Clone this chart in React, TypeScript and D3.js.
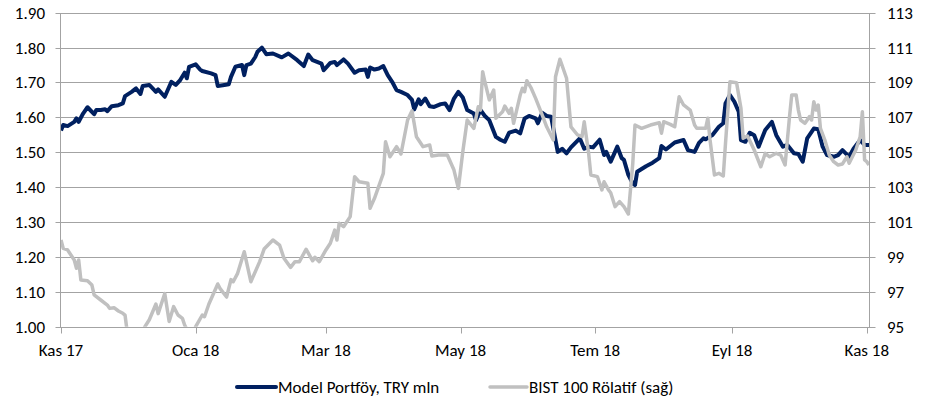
import React from 'react';
import * as d3 from 'd3';

// Model Portföy, TRY mln (left axis)
const portfolioDates = [
  '2017-11-01', '2017-11-02', '2017-11-04', '2017-11-07', '2017-11-08', '2017-11-09', '2017-11-11', '2017-11-13',
  '2017-11-16', '2017-11-17', '2017-11-19', '2017-11-21', '2017-11-22', '2017-11-24', '2017-11-27', '2017-11-29',
  '2017-11-30', '2017-12-03', '2017-12-05', '2017-12-07', '2017-12-08', '2017-12-11', '2017-12-14', '2017-12-15',
  '2017-12-18', '2017-12-21', '2017-12-23', '2017-12-25', '2017-12-27', '2017-12-28', '2017-12-29', '2018-01-01',
  '2018-01-03', '2018-01-04', '2018-01-08', '2018-01-10', '2018-01-11', '2018-01-14', '2018-01-16', '2018-01-17',
  '2018-01-19', '2018-01-22', '2018-01-23', '2018-01-24', '2018-01-26', '2018-01-28', '2018-01-29', '2018-01-31',
  '2018-02-02', '2018-02-05', '2018-02-09', '2018-02-12', '2018-02-16', '2018-02-19', '2018-02-21', '2018-02-23',
  '2018-02-27', '2018-02-28', '2018-03-03', '2018-03-05', '2018-03-06', '2018-03-09', '2018-03-11', '2018-03-14',
  '2018-03-16', '2018-03-19', '2018-03-20', '2018-03-21', '2018-03-23', '2018-03-25', '2018-03-27', '2018-03-29',
  '2018-03-31', '2018-04-02', '2018-04-04', '2018-04-07', '2018-04-09', '2018-04-10', '2018-04-12', '2018-04-13',
  '2018-04-15', '2018-04-17', '2018-04-19', '2018-04-22', '2018-04-24', '2018-04-26', '2018-04-28', '2018-04-30',
  '2018-05-02', '2018-05-04', '2018-05-07', '2018-05-08', '2018-05-10', '2018-05-12', '2018-05-14', '2018-05-17',
  '2018-05-19', '2018-05-21', '2018-05-23', '2018-05-26', '2018-05-28', '2018-05-30', '2018-06-01', '2018-06-04',
  '2018-06-05', '2018-06-07', '2018-06-09', '2018-06-11', '2018-06-14', '2018-06-16', '2018-06-18', '2018-06-20',
  '2018-06-24', '2018-06-26', '2018-06-28', '2018-06-30', '2018-07-03', '2018-07-05', '2018-07-06', '2018-07-08',
  '2018-07-11', '2018-07-13', '2018-07-14', '2018-07-16', '2018-07-18', '2018-07-19', '2018-07-20', '2018-07-24',
  '2018-07-27', '2018-07-30', '2018-07-31', '2018-08-02', '2018-08-04', '2018-08-06', '2018-08-10', '2018-08-12',
  '2018-08-15', '2018-08-17', '2018-08-19', '2018-08-20', '2018-08-23', '2018-08-26', '2018-08-28', '2018-08-29',
  '2018-08-31', '2018-09-02', '2018-09-04', '2018-09-05', '2018-09-07', '2018-09-09', '2018-09-11', '2018-09-13',
  '2018-09-16', '2018-09-19', '2018-09-21', '2018-09-24', '2018-09-26', '2018-09-29', '2018-10-01', '2018-10-03',
  '2018-10-05', '2018-10-08', '2018-10-10', '2018-10-12', '2018-10-14', '2018-10-17', '2018-10-19', '2018-10-21',
  '2018-10-24', '2018-10-26', '2018-10-29', '2018-10-31', '2018-11-02',
];
const portfolioValues = [
  1.562, 1.578, 1.575, 1.587, 1.597, 1.587, 1.611, 1.629,
  1.609, 1.621, 1.621, 1.623, 1.618, 1.632, 1.635, 1.640,
  1.661, 1.673, 1.683, 1.667, 1.690, 1.693, 1.673, 1.680,
  1.659, 1.702, 1.693, 1.707, 1.728, 1.712, 1.745, 1.752,
  1.737, 1.733, 1.726, 1.721, 1.690, 1.693, 1.695, 1.716,
  1.745, 1.750, 1.721, 1.750, 1.754, 1.773, 1.788, 1.800,
  1.781, 1.783, 1.772, 1.783, 1.764, 1.747, 1.780, 1.764,
  1.754, 1.735, 1.756, 1.759, 1.750, 1.766, 1.754, 1.728,
  1.735, 1.737, 1.716, 1.743, 1.737, 1.740, 1.747, 1.721,
  1.702, 1.678, 1.673, 1.664, 1.650, 1.623, 1.652, 1.638,
  1.654, 1.632, 1.630, 1.638, 1.640, 1.621, 1.654, 1.673,
  1.657, 1.621, 1.611, 1.592, 1.621, 1.604, 1.592, 1.544,
  1.536, 1.530, 1.556, 1.562, 1.554, 1.597, 1.604, 1.597,
  1.583, 1.613, 1.604, 1.602, 1.501, 1.510, 1.497, 1.514,
  1.540, 1.510, 1.516, 1.514, 1.536, 1.492, 1.501, 1.473,
  1.516, 1.483, 1.478, 1.435, 1.410, 1.406, 1.444, 1.460,
  1.470, 1.483, 1.518, 1.508, 1.518, 1.528, 1.535, 1.506,
  1.501, 1.527, 1.540, 1.537, 1.549, 1.573, 1.583, 1.640,
  1.664, 1.645, 1.616, 1.535, 1.530, 1.556, 1.549, 1.516,
  1.564, 1.587, 1.549, 1.516, 1.521, 1.497, 1.495, 1.473,
  1.540, 1.568, 1.566, 1.516, 1.492, 1.487, 1.492, 1.506,
  1.487, 1.510, 1.535, 1.521, 1.521,
];

// BIST 100 Rölatif (right axis)
const bistDates = [
  '2017-11-01', '2017-11-02', '2017-11-04', '2017-11-07', '2017-11-08', '2017-11-09', '2017-11-10', '2017-11-13',
  '2017-11-15', '2017-11-16', '2017-11-19', '2017-11-22', '2017-11-23', '2017-11-25', '2017-11-27', '2017-11-29',
  '2017-11-30', '2017-12-01', '2017-12-05', '2017-12-07', '2017-12-09', '2017-12-11', '2017-12-14', '2017-12-15',
  '2017-12-18', '2017-12-20', '2017-12-22', '2017-12-24', '2017-12-26', '2017-12-27', '2017-12-29', '2017-12-31',
  '2018-01-01', '2018-01-04', '2018-01-05', '2018-01-07', '2018-01-11', '2018-01-12', '2018-01-15', '2018-01-17',
  '2018-01-18', '2018-01-20', '2018-01-23', '2018-01-26', '2018-01-30', '2018-02-01', '2018-02-05', '2018-02-08',
  '2018-02-10', '2018-02-13', '2018-02-15', '2018-02-17', '2018-02-20', '2018-02-23', '2018-02-24', '2018-02-26',
  '2018-03-01', '2018-03-03', '2018-03-05', '2018-03-06', '2018-03-07', '2018-03-09', '2018-03-12', '2018-03-14',
  '2018-03-16', '2018-03-20', '2018-03-21', '2018-03-23', '2018-03-27', '2018-03-28', '2018-03-30', '2018-04-02',
  '2018-04-04', '2018-04-07', '2018-04-09', '2018-04-11', '2018-04-14', '2018-04-17', '2018-04-18', '2018-04-21',
  '2018-04-25', '2018-04-28', '2018-04-30', '2018-05-02', '2018-05-04', '2018-05-07', '2018-05-09', '2018-05-10',
  '2018-05-11', '2018-05-12', '2018-05-14', '2018-05-16', '2018-05-17', '2018-05-20', '2018-05-21', '2018-05-23',
  '2018-05-24', '2018-05-25', '2018-05-28', '2018-05-29', '2018-05-30', '2018-05-31', '2018-06-02', '2018-06-04',
  '2018-06-07', '2018-06-09', '2018-06-12', '2018-06-13', '2018-06-15', '2018-06-18', '2018-06-20', '2018-06-23',
  '2018-06-25', '2018-06-26', '2018-06-28', '2018-06-29', '2018-07-02', '2018-07-04', '2018-07-05', '2018-07-07',
  '2018-07-08', '2018-07-10', '2018-07-12', '2018-07-14', '2018-07-16', '2018-07-18', '2018-07-19', '2018-07-22',
  '2018-07-26', '2018-07-30', '2018-07-31', '2018-08-01', '2018-08-04', '2018-08-06', '2018-08-08', '2018-08-10',
  '2018-08-13', '2018-08-15', '2018-08-16', '2018-08-20', '2018-08-21', '2018-08-22', '2018-08-24', '2018-08-26',
  '2018-08-28', '2018-08-29', '2018-08-31', '2018-09-03', '2018-09-05', '2018-09-06', '2018-09-08', '2018-09-11',
  '2018-09-14', '2018-09-16', '2018-09-18', '2018-09-21', '2018-09-23', '2018-09-25', '2018-09-27', '2018-09-28',
  '2018-09-30', '2018-10-01', '2018-10-02', '2018-10-04', '2018-10-06', '2018-10-07', '2018-10-08', '2018-10-09',
  '2018-10-10', '2018-10-11', '2018-10-13', '2018-10-15', '2018-10-17', '2018-10-19', '2018-10-21', '2018-10-23',
  '2018-10-24', '2018-10-27', '2018-10-29', '2018-10-30', '2018-10-31', '2018-11-01', '2018-11-02',
];
const bistValues = [
  99.97, 99.49, 99.40, 98.82, 98.35, 98.82, 97.68, 97.64,
  97.39, 96.82, 96.53, 96.24, 96.05, 96.09, 95.90, 95.77,
  95.67, 94.70, 94.30, 94.50, 95.00, 95.40, 96.30, 95.75,
  96.90, 95.30, 96.15, 95.67, 95.48, 95.10, 94.60, 94.70,
  95.00, 95.67, 95.57, 96.30, 97.45, 97.20, 96.70, 97.70,
  97.58, 98.06, 99.30, 97.58, 98.73, 99.45, 99.97, 99.68,
  98.92, 98.40, 98.73, 98.73, 99.44, 98.78, 98.98, 98.73,
  99.40, 99.78, 100.54, 99.97, 100.93, 100.73, 101.31, 103.60,
  103.31, 103.22, 101.79, 102.36, 103.79, 105.60, 104.74, 105.32,
  104.90, 106.85, 107.38, 105.89, 105.32, 105.42, 104.78, 104.84,
  104.84, 103.98, 102.93, 105.03, 106.85, 106.37, 107.61, 107.42,
  109.62, 109.04, 108.00, 108.57, 106.95, 107.32, 107.65, 107.23,
  107.52, 106.66, 108.28, 108.67, 108.47, 109.10, 108.67, 108.09,
  107.13, 106.46, 105.70, 109.33, 110.33, 109.24, 106.46, 105.99,
  105.89, 106.75, 104.94, 103.70, 103.60, 102.84, 103.31, 102.84,
  102.68, 101.88, 102.17, 101.88, 101.46, 104.37, 106.56, 106.37,
  106.56, 106.69, 106.09, 106.75, 106.60, 106.46, 108.18, 107.71,
  107.42, 106.56, 106.37, 106.37, 106.95, 105.70, 103.70, 103.79,
  103.64, 105.51, 109.04, 108.99, 107.52, 105.80, 105.93, 105.13,
  104.17, 104.94, 104.74, 104.94, 104.84, 104.27, 107.04, 108.28,
  108.28, 107.42, 106.85, 106.66, 107.04, 106.85, 107.90, 107.42,
  107.71, 106.37, 105.70, 104.84, 104.46, 104.27, 104.33, 104.74,
  104.37, 105.13, 105.89, 107.32, 104.56, 104.46, 104.27,
];

const leftTicks = [1.0, 1.1, 1.2, 1.3, 1.4, 1.5, 1.6, 1.7, 1.8, 1.9];
const rightTicks = [95, 97, 99, 101, 103, 105, 107, 109, 111, 113];
const monthTicks = ['2017-11-01', '2018-01-01', '2018-03-01', '2018-05-01', '2018-07-01', '2018-09-01', '2018-11-01'];
const monthLabels = ['Kas 17', 'Oca 18', 'Mar 18', 'May 18', 'Tem 18', 'Eyl 18', 'Kas 18'];
const seriesNames = ['Model Portföy, TRY mln', 'BIST 100 Rölatif (sağ)'];

const parse = d3.utcParse('%Y-%m-%d');

export default function App() {
  const width = 941;
  const height = 401;
  const left = 61;
  const right = 869;
  const top = 12.7;
  const bottom = 326.7;

  const navy = '#002060';
  const grey = '#c0c0c0';
  const gridColor = '#a3a3a3';
  const font = 'Carlito, Calibri, Lato, sans-serif';
  const fontSize = 17;

  const x = d3.scaleUtc()
    .domain([parse('2017-11-01') as Date, parse('2018-11-02') as Date])
    .range([left, right]);
  const yL = d3.scaleLinear().domain([1.0, 1.9]).range([bottom, top]);
  const yR = d3.scaleLinear().domain([95, 113]).range([bottom, top]);

  const portfolio = portfolioDates.map((d, i) => ({ date: parse(d) as Date, v: portfolioValues[i] }));
  const bist = bistDates.map((d, i) => ({ date: parse(d) as Date, v: bistValues[i] }));

  const lineL = d3.line<{ date: Date; v: number }>().x(d => x(d.date)).y(d => yL(d.v));
  const lineR = d3.line<{ date: Date; v: number }>().x(d => x(d.date)).y(d => yR(d.v));

  const crisp = (v: number) => Math.round(v) + 0.5;
  const axisL = crisp(left) - 1;
  const axisR = crisp(right);
  const axisB = crisp(bottom);

  return (
    <div style={{ position: 'absolute', left: 0, top: 0 }}>
      <svg width={width} height={height} style={{ display: 'block', background: '#fff' }}>
        <defs>
          <clipPath id="plot-clip">
            <rect x={left} y={top - 4} width={right - left} height={bottom - top + 4} />
          </clipPath>
        </defs>

        {/* gridlines with outside ticks on both value axes */}
        {leftTicks.map(t => (
          <line key={t} x1={axisL - 5} x2={axisR + 6} y1={crisp(yL(t))} y2={crisp(yL(t))} stroke={gridColor} strokeWidth={1} />
        ))}

        {/* axis lines */}
        <line x1={axisL} x2={axisL} y1={crisp(top)} y2={axisB} stroke={gridColor} />
        <line x1={axisR} x2={axisR} y1={crisp(top)} y2={axisB} stroke={gridColor} />
        <line x1={axisL} x2={axisR} y1={axisB} y2={axisB} stroke={gridColor} />
        {monthTicks.map(m => (
          <line key={m} x1={crisp(x(parse(m) as Date))} x2={crisp(x(parse(m) as Date))} y1={axisB} y2={axisB + 6} stroke={gridColor} />
        ))}

        {/* series */}
        <g clipPath="url(#plot-clip)">
          <path d={lineL(portfolio) || ''} fill="none" stroke={navy} strokeWidth={4} strokeLinejoin="round" />
          <path d={lineR(bist) || ''} fill="none" stroke={grey} strokeWidth={3.5} strokeLinejoin="round" />
        </g>

        {/* tick labels */}
        <g fontFamily={font} fontSize={fontSize} fill="#000">
          {leftTicks.map(t => (
            <text key={t} x={45} y={yL(t)} dy="0.35em" textAnchor="end">{t.toFixed(2)}</text>
          ))}
          {rightTicks.map(t => (
            <text key={t} x={887} y={yR(t)} dy="0.35em" textAnchor="start">{t}</text>
          ))}
          {monthTicks.map((m, i) => (
            <text key={m} x={x(parse(m) as Date)} y={350} dy="0.35em" textAnchor="middle">{monthLabels[i]}</text>
          ))}
        </g>

        {/* legend */}
        <g fontFamily={font} fontSize={fontSize} fill="#000">
          <line x1={237} x2={276} y1={387} y2={387} stroke={navy} strokeWidth={4} strokeLinecap="round" />
          <text x={278} y={387} dy="0.35em">{seriesNames[0]}</text>
          <line x1={490} x2={527} y1={387} y2={387} stroke={grey} strokeWidth={3.5} strokeLinecap="round" />
          <text x={529} y={387} dy="0.35em">{seriesNames[1]}</text>
        </g>
      </svg>
    </div>
  );
}
